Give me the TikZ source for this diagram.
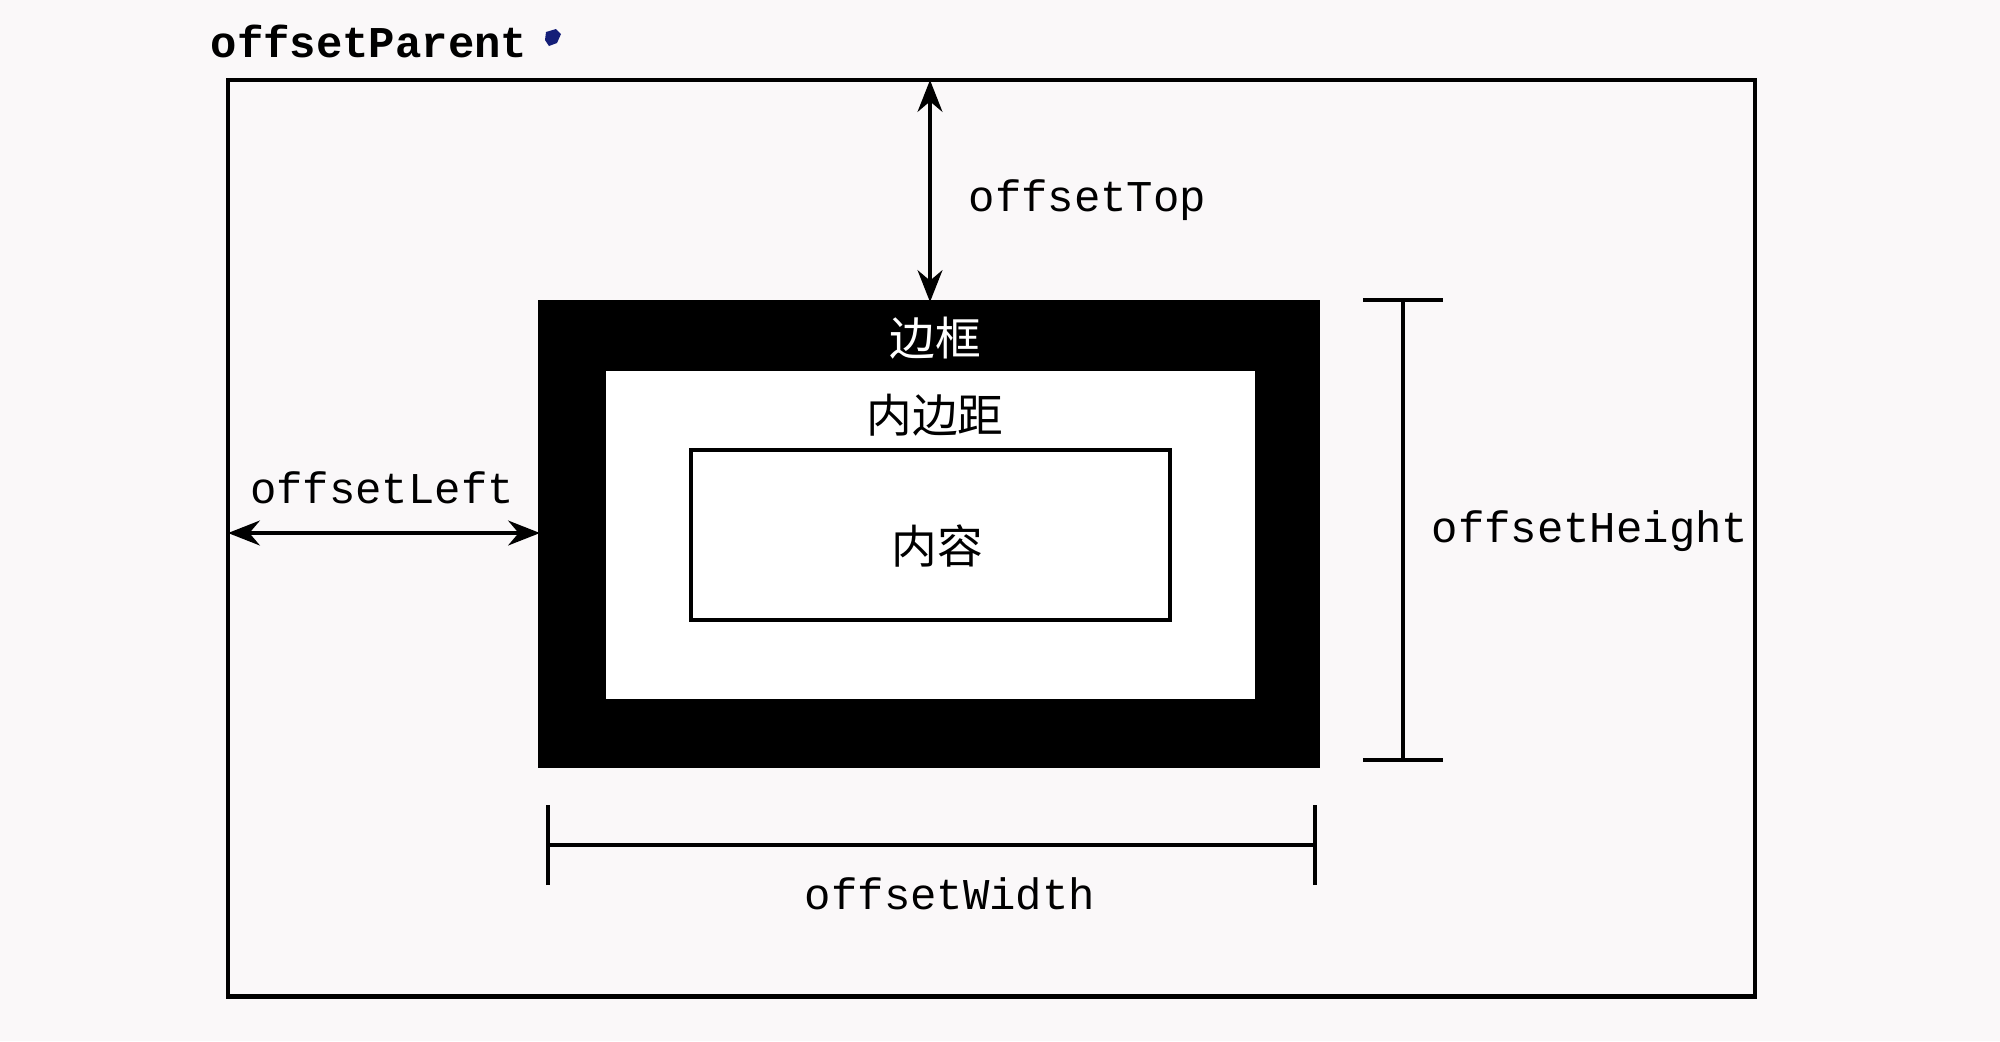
\documentclass[tikz,border=0pt]{standalone}
\usepackage{fontspec}
\setmonofont{Liberation Mono}
\newfontfamily\cjk{Noto Sans CJK SC}
\usetikzlibrary{arrows.meta}
\definecolor{paper}{RGB}{250,248,249}
\definecolor{inkblue}{RGB}{20,30,120}
\tikzset{
  lbl/.style={font=\ttfamily\fontsize{12.5}{14}\selectfont, inner sep=0pt},
  cjklbl/.style={font=\cjk\fontsize{13}{15}\selectfont, inner sep=0pt},
  box/.style={draw, line width=1.3pt, rectangle, inner sep=0pt, outer sep=0pt, anchor=north west},
  dim/.style={line width=1.4pt},
  arr/.style={line width=1.4pt, {Stealth[length=9pt,width=7pt]}-{Stealth[length=9pt,width=7pt]}}
}
\begin{document}
\begin{tikzpicture}[x=0.01cm,y=-0.01cm]
  \fill[paper] (0,0) rectangle (2000,1041);
  \useasboundingbox (0,0) rectangle (2000,1041);
  % title
  \node[lbl, font=\ttfamily\bfseries\fontsize{12.5}{14}\selectfont, anchor=west] (parent) at (210,41) {offsetParent};
  \fill[inkblue] (546,32) -- (556,29) -- (561,34) -- (557,43) -- (549,46) -- (545,40) -- cycle;
  % boxes
  \node[box, minimum width=15.26cm, minimum height=9.16cm] (outer) at (228,80) {};
  \node[box, fill=black, draw=black, minimum width=7.77cm, minimum height=4.63cm] (border) at (540,302) {};
  \node[box, fill=white, draw=none, minimum width=6.49cm, minimum height=3.28cm] (padding) at (606,371) {};
  \node[box, line width=1.2pt, minimum width=4.79cm, minimum height=1.70cm] (content) at (691,450) {};
  \node[cjklbl, text=white] (tborder) at (935,338) {边框};
  \node[cjklbl] (tpadding) at (935,415) {内边距};
  \node[cjklbl] (tcontent) at (937,546) {内容};
  % offsetTop
  \coordinate (topA) at (930,80);
  \coordinate (topB) at (930,302);
  \draw[arr] (topA) -- (topB);
  \node[lbl, anchor=west] (ltop) at (968,200) {offsetTop};
  % offsetLeft
  \coordinate (leftA) at (228,533);
  \coordinate (leftB) at (540,533);
  \draw[arr] (leftA) -- (leftB);
  \node[lbl] (lleft) at (382,488) {offsetLeft};
  % offsetHeight
  \coordinate (hA) at (1403,300);
  \coordinate (hB) at (1403,760);
  \draw[dim] (hA) -- (hB);
  \draw[dim] ([xshift=-0.4cm]hA) -- ([xshift=0.4cm]hA);
  \draw[dim] ([xshift=-0.4cm]hB) -- ([xshift=0.4cm]hB);
  \node[lbl, anchor=west] (lheight) at (1431,531) {offsetHeight};
  % offsetWidth
  \coordinate (wA) at (548,845);
  \coordinate (wB) at (1315,845);
  \draw[dim] (wA) -- (wB);
  \draw[dim] ([yshift=-0.4cm]wA) -- ([yshift=0.4cm]wA);
  \draw[dim] ([yshift=-0.4cm]wB) -- ([yshift=0.4cm]wB);
  \node[lbl] (lwidth) at (950,894) {offsetWidth};
\end{tikzpicture}
\end{document}
